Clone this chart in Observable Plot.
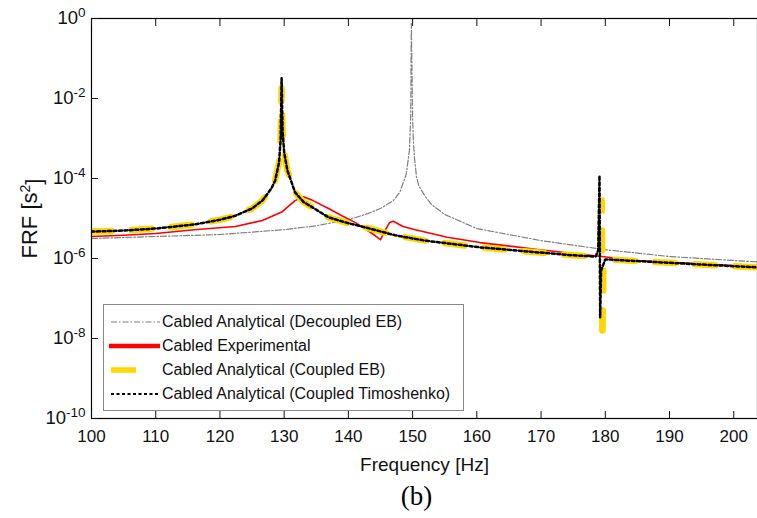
<!DOCTYPE html>
<html><head><meta charset="utf-8">
<script src="https://cdn.jsdelivr.net/npm/d3@7"></script>
<script src="https://cdn.jsdelivr.net/npm/@observablehq/plot@0.6"></script>
<style>
body{margin:0;background:#fff;font-family:"Liberation Sans",Arial,sans-serif;}
#wrap{position:relative;width:757px;height:518px;overflow:hidden;}
#caption{position:absolute;left:0;top:478px;width:757px;text-align:center;font-family:"Liberation Serif","Times New Roman",serif;font-size:27px;line-height:36px;padding-left:76px;box-sizing:border-box;}
#legend{position:absolute;left:103px;top:304px;width:361px;height:107px;border:1px solid #888;background:#fff;box-sizing:border-box;}
.row{position:absolute;left:0;height:24px;width:358px;}
.row svg{position:absolute;left:5px;top:0;}
.row span{position:absolute;left:58px;top:2px;font-size:16px;line-height:20px;color:#111;white-space:nowrap;}
</style></head>
<body><div id="wrap"><div id="chart"></div>
<div id="legend"></div>
<div id="caption">(b)</div></div>
<script>
// ---- data ----
const xTicks = [100,110,120,130,140,150,160,170,180,190,200];
const yTicks = [1,1e-2,1e-4,1e-6,1e-8,1e-10];
const seriesNames = ["Cabled Analytical (Decoupled EB)","Cabled Experimental","Cabled Analytical (Coupled EB)","Cabled Analytical (Coupled Timoshenko)"];

const grayF = [100,110,120,130,135,140,143,145,147,148,149,149.5,149.7,149.8,150.0,150.1,150.3,150.6,151,152,153,155,160,170,180,190,203.7];
const grayV = [3.16e-6,3.55e-6,3.98e-6,5.25e-6,6.6e-6,9.3e-6,1.32e-5,1.78e-5,2.8e-5,4.5e-5,1.26e-4,5.0e-4,3.2e-3,0.75,3.2e-3,1.0e-3,3.2e-4,1.1e-4,6.3e-5,3.5e-5,2.2e-5,1.26e-5,5.6e-6,2.8e-6,1.66e-6,1.12e-6,8.2e-7];

const redF = [100,105,110,116,122.4,126.6,129.7,131.7,133.0,134.5,136.9,139,141.1,143,144.2,145.0,145.7,146.4,147.0,148.5,150.1,155.4,160.5,169.8,178.4,185,195,203.7];
const redV = [3.55e-6,3.8e-6,4.2e-6,5.25e-6,6.3e-6,8.9e-6,1.48e-5,2.8e-5,3.5e-5,2.8e-5,1.78e-5,1.17e-5,7.9e-6,5.0e-6,3.7e-6,2.95e-6,5.0e-6,7.9e-6,8.5e-6,6.3e-6,5.4e-6,3.4e-6,2.5e-6,1.66e-6,1.17e-6,8.9e-7,7.4e-7,6.2e-7];

const ebF = [100,105,110,116,120,122.4,125,126.6,128,128.6,129.2,129.45,129.6,129.75,130.0,130.5,131.7,133,134.4,136.9,140,142.1,147.3,151.9,160.5,169.8,175,178.5,179.3,179.45,179.55,179.7,180.2,186.9,194.7,203.7];
const ebV = [4.7e-6,5.0e-6,5.6e-6,7.1e-6,9.3e-6,1.17e-5,1.78e-5,2.8e-5,5.6e-5,8.9e-5,2.5e-4,1.0e-3,0.018,1.6e-3,4.5e-4,1.6e-4,4.5e-5,2.6e-5,1.9e-5,1.07e-5,7.6e-6,6.3e-6,3.8e-6,2.8e-6,1.9e-6,1.41e-6,1.2e-6,1.12e-6,1.4e-6,2.8e-5,8.9e-9,5.0e-7,9.5e-7,8.3e-7,7.1e-7,6.0e-7];

const timoF = [100,105,110,116,120,122.4,125,126.6,128,128.6,129.2,129.45,129.6,129.75,130.0,130.5,131.7,133,134.4,136.9,140,142.1,147.3,151.9,160.5,169.8,175,178.5,178.9,179.1,179.2,179.35,180,186.9,194.7,203.7];
const timoV = [4.7e-6,5.0e-6,5.6e-6,7.1e-6,9.3e-6,1.17e-5,1.78e-5,2.8e-5,5.6e-5,8.9e-5,2.5e-4,1.0e-3,0.032,1.6e-3,4.5e-4,1.6e-4,4.5e-5,2.6e-5,1.9e-5,1.07e-5,7.6e-6,6.3e-6,3.8e-6,2.8e-6,1.9e-6,1.41e-6,1.2e-6,1.12e-6,1.6e-6,1.18e-4,3.4e-8,5.0e-7,9.5e-7,8.3e-7,7.1e-7,6.0e-7];

const styles = [
  {stroke:"#808080", strokeWidth:1.2, strokeDasharray:"6,2,1.5,2"},
  {stroke:"#ff0000", strokeWidth:1.6},
  {stroke:"#ffd700", strokeWidth:6.5, strokeDasharray:"20,20"},
  {stroke:"#000000", strokeWidth:2.5, strokeDasharray:"3,2.5"}
];
const mk = (F,V)=>F.map((f,i)=>({f, v:V[i]}));
const series = [mk(grayF,grayV), mk(redF,redV), mk(ebF,ebV), mk(timoF,timoV)];

const plot = Plot.plot({
  width: 757, height: 478,
  marginLeft: 91, marginRight: 0, marginTop: 18, marginBottom: 60,
  style: {fontFamily: '"Liberation Sans", Arial, sans-serif', fontSize: "17px", background: "white", color: "#111"},
  x: {domain: [100, 203.7]},
  y: {type: "log", domain: [1e-10, 1]},
  marks: [
    ...series.map((d,i) => Plot.line(d, {x:"f", y:"v", ...styles[i], clip:true})),
    Plot.frame({stroke:"#000", strokeWidth:1.2}),
    Plot.axisX({ticks: xTicks, tickSize: -7, tickFormat: () => "", label: null}),
    Plot.axisX({anchor:"top", ticks: xTicks, tickSize: -7, tickFormat: () => "", label: null}),
    Plot.axisX({ticks: xTicks, tickSize: 0, tickPadding: 11, tickFormat: d => String(d), fontSize: 17,
                label: "Frequency [Hz]", labelAnchor: "center", labelOffset: 52, labelArrow: "none"}),
    Plot.axisY({ticks: yTicks, tickSize: -7, tickFormat: () => "", label: null}),
    Plot.axisY({ticks: yTicks, tickSize: 0, tickPadding: 6, fontSize: 18.5,
                tickFormat: d => "10^" + Math.round(Math.log10(d)),
                label: "FRF [s^2]", labelAnchor: "center", labelOffset: 70, labelArrow: "none"})
  ]
});
document.getElementById("chart").appendChild(plot);

// superscripts
const svg = d3.select(plot);
svg.selectAll("text").each(function(){
  const t = this.textContent;
  if (t.startsWith("10^")) {
    const e = t.slice(3);
    this.textContent = "10";
    d3.select(this).append("tspan").attr("dy","-0.55em").attr("font-size","13.5px").text(e);
  } else if (t.includes("FRF")) {
    this.textContent = "FRF [s";
    const s = d3.select(this);
    s.append("tspan").attr("dy","-0.5em").attr("font-size","14px").text("2");
    s.append("tspan").attr("dy","0.5em").text("]");
    s.attr("font-size","22px");
  } else if (t.includes("Frequency")) {
    d3.select(this).attr("font-size","19px");
  }
});

// legend
const leg = document.getElementById("legend");
const samples = [
  '<line x1="2" y1="12" x2="51" y2="12" stroke="#808080" stroke-width="1.2" stroke-dasharray="6,2,1.5,2"/>',
  '<line x1="0" y1="12" x2="51" y2="12" stroke="#ff0000" stroke-width="4.5"/>',
  '<line x1="2" y1="12" x2="27" y2="12" stroke="#ffd700" stroke-width="5.5"/>',
  '<line x1="2" y1="12" x2="51" y2="12" stroke="#000" stroke-width="2.2" stroke-dasharray="3,2.5"/>'
];
seriesNames.forEach((name,i)=>{
  const r = document.createElement("div");
  r.className = "row"; r.style.top = (5 + i*24) + "px";
  r.innerHTML = `<svg width="53" height="24">${samples[i]}</svg><span>${name}</span>`;
  leg.appendChild(r);
});
</script></body></html>
